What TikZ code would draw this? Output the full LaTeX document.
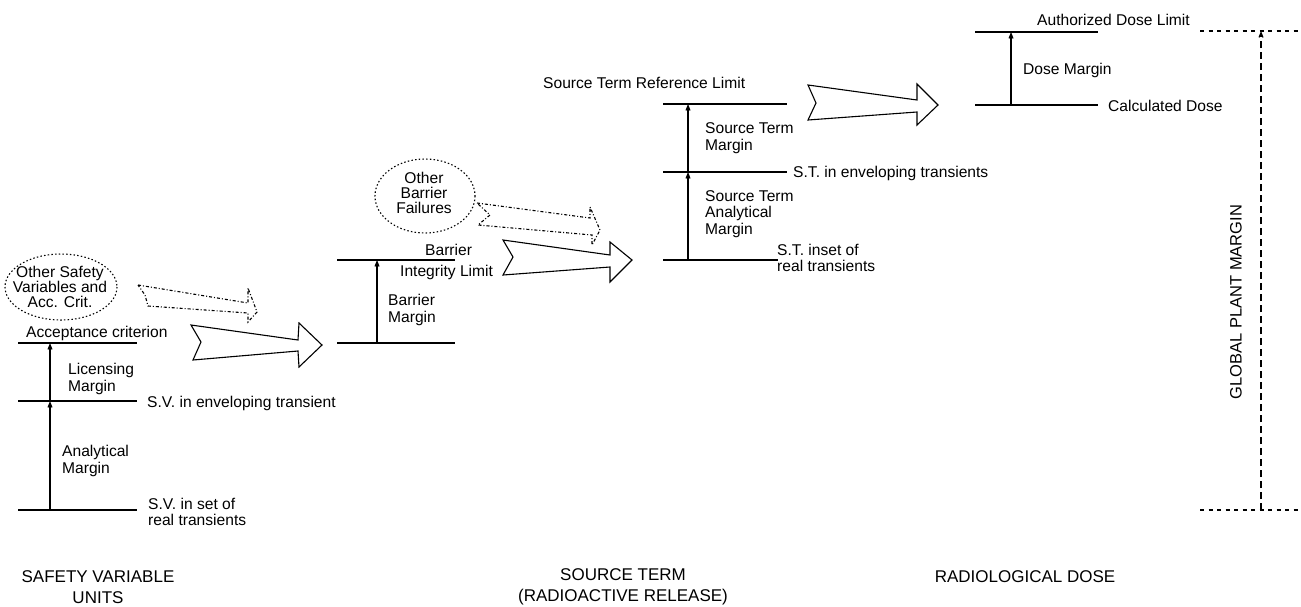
\documentclass[tikz,border=0pt]{standalone}
\usepackage{fontspec}
\setmainfont{Liberation Sans}
\usetikzlibrary{arrows.meta}
\begin{document}
\begin{tikzpicture}[x=1pt,y=-1pt,
  lvl/.style={line width=1.1pt},
  marg/.style={line width=1.1pt,-{Straight Barb[length=5pt,width=4pt]}},
  lbl/.style={inner sep=0pt,anchor=west,align=left,font=\fontsize{15.6}{16.5}\selectfont},
  clbl/.style={inner sep=0pt,align=center,font=\fontsize{15.6}{15}\selectfont},
  caplbl/.style={inner sep=0pt,align=center,font=\fontsize{17}{21}\selectfont},
  bigarrow/.style={line width=1.1pt,line join=miter},
  ghostarrow/.style={line width=1.1pt,dash pattern=on 3pt off 2pt on 1pt off 2pt},
  cloud/.style={line width=1.1pt,dash pattern=on 1.5pt off 2.2pt},
  glob/.style={line width=1.1pt,dash pattern=on 4pt off 4.5pt},
  globv/.style={line width=1.1pt,dash pattern=on 7pt off 4pt}]
\useasboundingbox (0,0) rectangle (1301,606);

% ---------- Block 1: safety variable ----------
\coordinate (a1) at (18,343); \coordinate (a2) at (137,343);
\coordinate (b1) at (18,401); \coordinate (b2) at (137,401);
\coordinate (c1) at (18,510); \coordinate (c2) at (137,510);
\draw[lvl] (a1) -- (a2);
\draw[lvl] (b1) -- (b2);
\draw[lvl] (c1) -- (c2);
\coordinate (va) at (50,343); \coordinate (vb) at (50,401); \coordinate (vc) at (50,510);
\draw[marg] (vc) -- (vb);
\draw[marg] (vb) -- (va);
\node[lbl] (accl) at (26,333) {Acceptance criterion};
\node[lbl] (licl) at (68,379) {Licensing\\Margin};
\node[lbl] (svenv) at (147,403) {S.V. in enveloping transient};
\node[lbl] (anl) at (62,461) {Analytical\\Margin};
\node[lbl] (svset) at (148,512) {S.V. in set of\\real transients};
\draw[cloud] (61,287) ellipse [x radius=56, y radius=33];
\node[clbl] (osv) at (60,287) {Other Safety\\Variables and\\Acc. Crit.};
\draw[ghostarrow] (138,285) -- (248,303) -- (248,288) -- (257,312) -- (248,322) -- (248,313) -- (148,306) -- (145,295) -- cycle;
\draw[bigarrow] (191,325) -- (298,340) -- (299,323) -- (322,345) -- (299,367) -- (298,351) -- (193,360) -- (201,342) -- cycle;

% ---------- Block 2: barrier ----------
\coordinate (d1) at (337,260); \coordinate (d2) at (455,260);
\coordinate (e1) at (337,343); \coordinate (e2) at (455,343);
\draw[lvl] (d1) -- (d2);
\draw[lvl] (e1) -- (e2);
\coordinate (vd) at (377,260); \coordinate (ve) at (377,343);
\draw[marg] (ve) -- (vd);
\node[lbl] (bil1) at (425,250) {Barrier};
\node[lbl] (bil2) at (400,272) {Integrity Limit};
\node[lbl] (bml) at (388,310) {Barrier\\Margin};
\draw[cloud] (425,196) ellipse [x radius=50, y radius=37];
\node[clbl] (obf) at (424,193) {Other\\Barrier\\Failures};
\draw[ghostarrow] (477,203) -- (590,218) -- (590,207) -- (600,230) -- (592,245) -- (592,235) -- (478,225) -- (490,215) -- cycle;
\draw[bigarrow] (503,240) -- (610,255) -- (610,242) -- (632,260) -- (610,282) -- (610,267) -- (503,275) -- (513,257) -- cycle;

% ---------- Block 3: source term ----------
\coordinate (f1) at (663,104); \coordinate (f2) at (787,104);
\coordinate (g1) at (663,172); \coordinate (g2) at (787,172);
\coordinate (h1) at (663,260); \coordinate (h2) at (778,260);
\draw[lvl] (f1) -- (f2);
\draw[lvl] (g1) -- (g2);
\draw[lvl] (h1) -- (h2);
\coordinate (vf) at (688,104); \coordinate (vg) at (688,172); \coordinate (vh) at (688,260);
\draw[marg] (vh) -- (vg);
\draw[marg] (vg) -- (vf);
\node[lbl] (strl) at (543,83) {Source Term Reference Limit};
\node[lbl] (stm) at (705,138) {Source Term\\Margin};
\node[lbl] (stenv) at (793,173) {S.T. in enveloping transients};
\node[lbl] (stam) at (705,214) {Source Term\\Analytical\\Margin};
\node[lbl] (stset) at (777,258) {S.T. inset of\\real transients};
\draw[bigarrow] (808,85) -- (917,100) -- (917,84) -- (938,105) -- (917,125) -- (917,112) -- (808,120) -- (816,103) -- cycle;

% ---------- Block 4: dose ----------
\coordinate (i1) at (975,32); \coordinate (i2) at (1098,32);
\coordinate (j1) at (975,105); \coordinate (j2) at (1098,105);
\draw[lvl] (i1) -- (i2);
\draw[lvl] (j1) -- (j2);
\coordinate (vi) at (1011,32); \coordinate (vj) at (1011,105);
\draw[marg] (vj) -- (vi);
\node[lbl] (adl) at (1037,20) {Authorized Dose Limit};
\node[lbl] (dml) at (1023,70) {Dose Margin};
\node[lbl] (cdl) at (1108,106) {Calculated Dose};

% ---------- Global margin ----------
\coordinate (k1) at (1200,31); \coordinate (k2) at (1301,31);
\coordinate (m1) at (1200,510); \coordinate (m2) at (1301,510);
\draw[glob] (k1) -- (k2);
\draw[glob] (m1) -- (m2);
\coordinate (vk) at (1261,31); \coordinate (vm) at (1261,510);
\draw[globv,-{Straight Barb[length=5pt,width=4pt]}] (vm) -- (vk);
\node[caplbl,rotate=90,font=\fontsize{16.5}{18}\selectfont] (gpm) at (1236,302) {GLOBAL PLANT MARGIN};

% ---------- Column captions ----------
\node[caplbl] (cap1) at (98,587) {SAFETY VARIABLE\\UNITS};
\node[caplbl] (cap2) at (623,587) {SOURCE TERM\\(RADIOACTIVE RELEASE)};
\node[caplbl] (cap3) at (1025,577) {RADIOLOGICAL DOSE};
\end{tikzpicture}
\end{document}
